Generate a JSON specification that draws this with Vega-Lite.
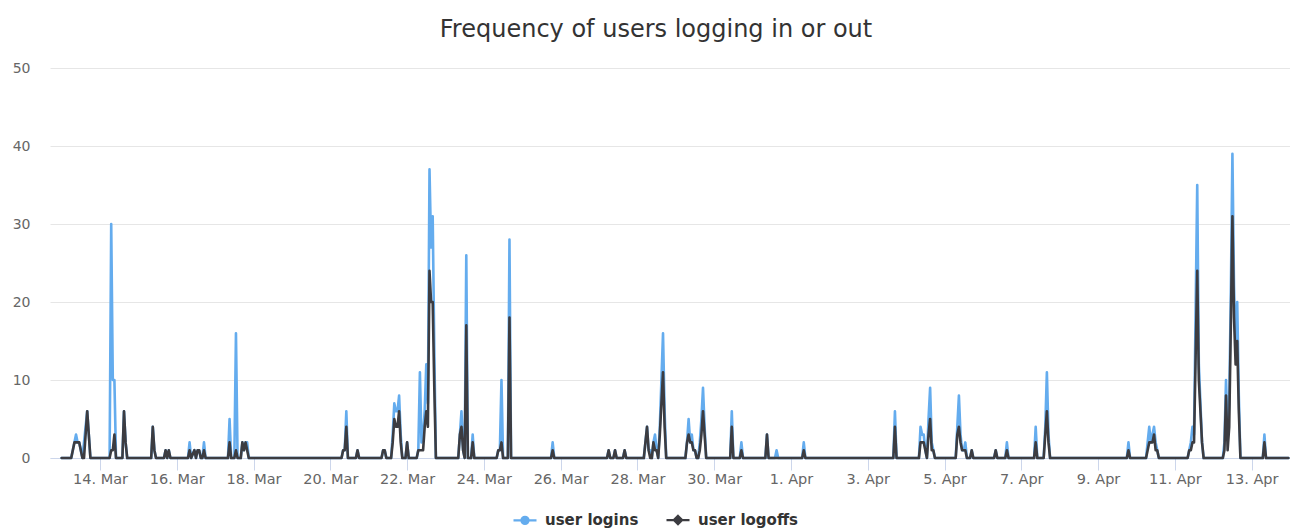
{
 "$schema": "https://vega.github.io/schema/vega-lite/v6.json",
 "autosize": {"type": "none"},
 "width": 1240,
 "height": 390,
 "padding": {"left": 50, "top": 68, "right": 0, "bottom": 72},
 "background": "white",
 "title": {"text": "Frequency of users logging in or out", "fontSize": 24, "font": "DejaVu Sans", "fontWeight": "normal", "color": "#333333", "anchor": "middle", "dx": -14, "offset": 19},
 "data": {"values": [
  {"t":"2017-03-13T00:00Z","logins":0,"logoffs":0},
  {"t":"2017-03-13T06:00Z","logins":0,"logoffs":0},
  {"t":"2017-03-13T08:00Z","logins":2,"logoffs":2},
  {"t":"2017-03-13T09:00Z","logins":3,"logoffs":2},
  {"t":"2017-03-13T10:00Z","logins":2,"logoffs":2},
  {"t":"2017-03-13T11:00Z","logins":2,"logoffs":2},
  {"t":"2017-03-13T13:00Z","logins":0,"logoffs":0},
  {"t":"2017-03-13T14:00Z","logins":2,"logoffs":0},
  {"t":"2017-03-13T16:00Z","logins":6,"logoffs":6},
  {"t":"2017-03-13T18:00Z","logins":0,"logoffs":0},
  {"t":"2017-03-14T06:00Z","logins":0,"logoffs":0},
  {"t":"2017-03-14T07:00Z","logins":30,"logoffs":1},
  {"t":"2017-03-14T08:00Z","logins":10,"logoffs":1},
  {"t":"2017-03-14T09:00Z","logins":10,"logoffs":3},
  {"t":"2017-03-14T10:00Z","logins":0,"logoffs":0},
  {"t":"2017-03-14T14:00Z","logins":0,"logoffs":0},
  {"t":"2017-03-14T15:00Z","logins":6,"logoffs":6},
  {"t":"2017-03-14T16:00Z","logins":2,"logoffs":2},
  {"t":"2017-03-14T17:00Z","logins":0,"logoffs":0},
  {"t":"2017-03-15T08:00Z","logins":0,"logoffs":0},
  {"t":"2017-03-15T09:00Z","logins":4,"logoffs":4},
  {"t":"2017-03-15T10:00Z","logins":1,"logoffs":1},
  {"t":"2017-03-15T11:00Z","logins":0,"logoffs":0},
  {"t":"2017-03-15T16:00Z","logins":0,"logoffs":0},
  {"t":"2017-03-15T17:00Z","logins":1,"logoffs":1},
  {"t":"2017-03-15T18:00Z","logins":0,"logoffs":0},
  {"t":"2017-03-15T19:00Z","logins":1,"logoffs":1},
  {"t":"2017-03-15T20:00Z","logins":0,"logoffs":0},
  {"t":"2017-03-16T07:00Z","logins":0,"logoffs":0},
  {"t":"2017-03-16T08:00Z","logins":2,"logoffs":1},
  {"t":"2017-03-16T09:00Z","logins":0,"logoffs":0},
  {"t":"2017-03-16T11:00Z","logins":1,"logoffs":1},
  {"t":"2017-03-16T12:00Z","logins":0,"logoffs":0},
  {"t":"2017-03-16T13:00Z","logins":1,"logoffs":1},
  {"t":"2017-03-16T14:00Z","logins":1,"logoffs":1},
  {"t":"2017-03-16T15:00Z","logins":0,"logoffs":0},
  {"t":"2017-03-16T16:00Z","logins":0,"logoffs":0},
  {"t":"2017-03-16T17:00Z","logins":2,"logoffs":1},
  {"t":"2017-03-16T18:00Z","logins":0,"logoffs":0},
  {"t":"2017-03-17T08:00Z","logins":0,"logoffs":0},
  {"t":"2017-03-17T09:00Z","logins":5,"logoffs":2},
  {"t":"2017-03-17T10:00Z","logins":0,"logoffs":0},
  {"t":"2017-03-17T12:00Z","logins":0,"logoffs":0},
  {"t":"2017-03-17T13:00Z","logins":16,"logoffs":1},
  {"t":"2017-03-17T14:00Z","logins":0,"logoffs":0},
  {"t":"2017-03-17T16:00Z","logins":0,"logoffs":0},
  {"t":"2017-03-17T17:00Z","logins":2,"logoffs":2},
  {"t":"2017-03-17T18:00Z","logins":1,"logoffs":1},
  {"t":"2017-03-17T19:00Z","logins":2,"logoffs":2},
  {"t":"2017-03-17T20:00Z","logins":2,"logoffs":1},
  {"t":"2017-03-17T21:00Z","logins":0,"logoffs":0},
  {"t":"2017-03-20T07:00Z","logins":0,"logoffs":0},
  {"t":"2017-03-20T08:00Z","logins":1,"logoffs":1},
  {"t":"2017-03-20T09:00Z","logins":1,"logoffs":1},
  {"t":"2017-03-20T10:00Z","logins":6,"logoffs":4},
  {"t":"2017-03-20T11:00Z","logins":0,"logoffs":0},
  {"t":"2017-03-20T16:00Z","logins":0,"logoffs":0},
  {"t":"2017-03-20T17:00Z","logins":1,"logoffs":1},
  {"t":"2017-03-20T18:00Z","logins":0,"logoffs":0},
  {"t":"2017-03-21T08:00Z","logins":0,"logoffs":0},
  {"t":"2017-03-21T09:00Z","logins":1,"logoffs":1},
  {"t":"2017-03-21T10:00Z","logins":1,"logoffs":1},
  {"t":"2017-03-21T11:00Z","logins":0,"logoffs":0},
  {"t":"2017-03-21T14:00Z","logins":0,"logoffs":0},
  {"t":"2017-03-21T15:00Z","logins":3,"logoffs":2},
  {"t":"2017-03-21T16:00Z","logins":7,"logoffs":5},
  {"t":"2017-03-21T17:00Z","logins":6,"logoffs":4},
  {"t":"2017-03-21T18:00Z","logins":6,"logoffs":4},
  {"t":"2017-03-21T19:00Z","logins":8,"logoffs":6},
  {"t":"2017-03-21T20:00Z","logins":3,"logoffs":2},
  {"t":"2017-03-21T21:00Z","logins":0,"logoffs":0},
  {"t":"2017-03-21T23:00Z","logins":0,"logoffs":0},
  {"t":"2017-03-22T00:00Z","logins":2,"logoffs":2},
  {"t":"2017-03-22T01:00Z","logins":0,"logoffs":0},
  {"t":"2017-03-22T06:00Z","logins":0,"logoffs":0},
  {"t":"2017-03-22T07:00Z","logins":1,"logoffs":1},
  {"t":"2017-03-22T08:00Z","logins":11,"logoffs":1},
  {"t":"2017-03-22T09:00Z","logins":2,"logoffs":1},
  {"t":"2017-03-22T10:00Z","logins":3,"logoffs":1},
  {"t":"2017-03-22T11:00Z","logins":6,"logoffs":4},
  {"t":"2017-03-22T12:00Z","logins":12,"logoffs":6},
  {"t":"2017-03-22T13:00Z","logins":7,"logoffs":4},
  {"t":"2017-03-22T14:00Z","logins":37,"logoffs":24},
  {"t":"2017-03-22T15:00Z","logins":27,"logoffs":20},
  {"t":"2017-03-22T16:00Z","logins":31,"logoffs":20},
  {"t":"2017-03-22T17:00Z","logins":14,"logoffs":9},
  {"t":"2017-03-22T18:00Z","logins":0,"logoffs":0},
  {"t":"2017-03-23T08:00Z","logins":0,"logoffs":0},
  {"t":"2017-03-23T09:00Z","logins":3,"logoffs":3},
  {"t":"2017-03-23T10:00Z","logins":6,"logoffs":4},
  {"t":"2017-03-23T11:00Z","logins":1,"logoffs":1},
  {"t":"2017-03-23T12:00Z","logins":0,"logoffs":0},
  {"t":"2017-03-23T13:00Z","logins":26,"logoffs":17},
  {"t":"2017-03-23T14:00Z","logins":0,"logoffs":0},
  {"t":"2017-03-23T16:00Z","logins":0,"logoffs":0},
  {"t":"2017-03-23T17:00Z","logins":3,"logoffs":2},
  {"t":"2017-03-23T18:00Z","logins":0,"logoffs":0},
  {"t":"2017-03-24T08:00Z","logins":0,"logoffs":0},
  {"t":"2017-03-24T09:00Z","logins":1,"logoffs":1},
  {"t":"2017-03-24T10:00Z","logins":1,"logoffs":1},
  {"t":"2017-03-24T11:00Z","logins":10,"logoffs":2},
  {"t":"2017-03-24T12:00Z","logins":0,"logoffs":0},
  {"t":"2017-03-24T15:00Z","logins":0,"logoffs":0},
  {"t":"2017-03-24T16:00Z","logins":28,"logoffs":18},
  {"t":"2017-03-24T17:00Z","logins":0,"logoffs":0},
  {"t":"2017-03-25T18:00Z","logins":0,"logoffs":0},
  {"t":"2017-03-25T19:00Z","logins":2,"logoffs":1},
  {"t":"2017-03-25T20:00Z","logins":0,"logoffs":0},
  {"t":"2017-03-27T05:00Z","logins":0,"logoffs":0},
  {"t":"2017-03-27T06:00Z","logins":1,"logoffs":1},
  {"t":"2017-03-27T07:00Z","logins":0,"logoffs":0},
  {"t":"2017-03-27T09:00Z","logins":0,"logoffs":0},
  {"t":"2017-03-27T10:00Z","logins":1,"logoffs":1},
  {"t":"2017-03-27T11:00Z","logins":0,"logoffs":0},
  {"t":"2017-03-27T15:00Z","logins":0,"logoffs":0},
  {"t":"2017-03-27T16:00Z","logins":1,"logoffs":1},
  {"t":"2017-03-27T17:00Z","logins":0,"logoffs":0},
  {"t":"2017-03-28T04:00Z","logins":0,"logoffs":0},
  {"t":"2017-03-28T05:00Z","logins":2,"logoffs":2},
  {"t":"2017-03-28T06:00Z","logins":4,"logoffs":4},
  {"t":"2017-03-28T07:00Z","logins":1,"logoffs":1},
  {"t":"2017-03-28T08:00Z","logins":1,"logoffs":0},
  {"t":"2017-03-28T09:00Z","logins":0,"logoffs":0},
  {"t":"2017-03-28T10:00Z","logins":2,"logoffs":2},
  {"t":"2017-03-28T11:00Z","logins":3,"logoffs":1},
  {"t":"2017-03-28T12:00Z","logins":1,"logoffs":1},
  {"t":"2017-03-28T13:00Z","logins":0,"logoffs":0},
  {"t":"2017-03-28T14:00Z","logins":4,"logoffs":3},
  {"t":"2017-03-28T15:00Z","logins":10,"logoffs":7},
  {"t":"2017-03-28T16:00Z","logins":16,"logoffs":11},
  {"t":"2017-03-28T17:00Z","logins":6,"logoffs":4},
  {"t":"2017-03-28T18:00Z","logins":0,"logoffs":0},
  {"t":"2017-03-29T06:00Z","logins":0,"logoffs":0},
  {"t":"2017-03-29T07:00Z","logins":2,"logoffs":2},
  {"t":"2017-03-29T08:00Z","logins":5,"logoffs":3},
  {"t":"2017-03-29T09:00Z","logins":2,"logoffs":2},
  {"t":"2017-03-29T10:00Z","logins":3,"logoffs":2},
  {"t":"2017-03-29T11:00Z","logins":1,"logoffs":1},
  {"t":"2017-03-29T12:00Z","logins":1,"logoffs":1},
  {"t":"2017-03-29T13:00Z","logins":0,"logoffs":0},
  {"t":"2017-03-29T14:00Z","logins":0,"logoffs":0},
  {"t":"2017-03-29T15:00Z","logins":2,"logoffs":1},
  {"t":"2017-03-29T16:00Z","logins":5,"logoffs":3},
  {"t":"2017-03-29T17:00Z","logins":9,"logoffs":6},
  {"t":"2017-03-29T18:00Z","logins":4,"logoffs":3},
  {"t":"2017-03-29T19:00Z","logins":0,"logoffs":0},
  {"t":"2017-03-30T10:00Z","logins":0,"logoffs":0},
  {"t":"2017-03-30T11:00Z","logins":6,"logoffs":4},
  {"t":"2017-03-30T12:00Z","logins":0,"logoffs":0},
  {"t":"2017-03-30T16:00Z","logins":0,"logoffs":0},
  {"t":"2017-03-30T17:00Z","logins":2,"logoffs":1},
  {"t":"2017-03-30T18:00Z","logins":0,"logoffs":0},
  {"t":"2017-03-31T08:00Z","logins":0,"logoffs":0},
  {"t":"2017-03-31T09:00Z","logins":3,"logoffs":3},
  {"t":"2017-03-31T10:00Z","logins":0,"logoffs":0},
  {"t":"2017-03-31T14:00Z","logins":0,"logoffs":0},
  {"t":"2017-03-31T15:00Z","logins":1,"logoffs":0},
  {"t":"2017-03-31T16:00Z","logins":0,"logoffs":0},
  {"t":"2017-04-01T07:00Z","logins":0,"logoffs":0},
  {"t":"2017-04-01T08:00Z","logins":2,"logoffs":1},
  {"t":"2017-04-01T09:00Z","logins":0,"logoffs":0},
  {"t":"2017-04-03T16:00Z","logins":0,"logoffs":0},
  {"t":"2017-04-03T17:00Z","logins":6,"logoffs":4},
  {"t":"2017-04-03T18:00Z","logins":0,"logoffs":0},
  {"t":"2017-04-04T08:00Z","logins":0,"logoffs":0},
  {"t":"2017-04-04T09:00Z","logins":4,"logoffs":2},
  {"t":"2017-04-04T10:00Z","logins":3,"logoffs":2},
  {"t":"2017-04-04T11:00Z","logins":3,"logoffs":2},
  {"t":"2017-04-04T12:00Z","logins":1,"logoffs":1},
  {"t":"2017-04-04T13:00Z","logins":0,"logoffs":0},
  {"t":"2017-04-04T14:00Z","logins":5,"logoffs":3},
  {"t":"2017-04-04T15:00Z","logins":9,"logoffs":5},
  {"t":"2017-04-04T16:00Z","logins":2,"logoffs":1},
  {"t":"2017-04-04T17:00Z","logins":1,"logoffs":1},
  {"t":"2017-04-04T18:00Z","logins":0,"logoffs":0},
  {"t":"2017-04-05T07:00Z","logins":0,"logoffs":0},
  {"t":"2017-04-05T08:00Z","logins":4,"logoffs":3},
  {"t":"2017-04-05T09:00Z","logins":8,"logoffs":4},
  {"t":"2017-04-05T10:00Z","logins":3,"logoffs":2},
  {"t":"2017-04-05T11:00Z","logins":1,"logoffs":1},
  {"t":"2017-04-05T12:00Z","logins":1,"logoffs":1},
  {"t":"2017-04-05T13:00Z","logins":2,"logoffs":1},
  {"t":"2017-04-05T14:00Z","logins":0,"logoffs":0},
  {"t":"2017-04-05T16:00Z","logins":0,"logoffs":0},
  {"t":"2017-04-05T17:00Z","logins":1,"logoffs":1},
  {"t":"2017-04-05T18:00Z","logins":0,"logoffs":0},
  {"t":"2017-04-06T07:00Z","logins":0,"logoffs":0},
  {"t":"2017-04-06T08:00Z","logins":1,"logoffs":1},
  {"t":"2017-04-06T09:00Z","logins":0,"logoffs":0},
  {"t":"2017-04-06T14:00Z","logins":0,"logoffs":0},
  {"t":"2017-04-06T15:00Z","logins":2,"logoffs":1},
  {"t":"2017-04-06T16:00Z","logins":0,"logoffs":0},
  {"t":"2017-04-07T08:00Z","logins":0,"logoffs":0},
  {"t":"2017-04-07T09:00Z","logins":4,"logoffs":2},
  {"t":"2017-04-07T10:00Z","logins":0,"logoffs":0},
  {"t":"2017-04-07T14:00Z","logins":0,"logoffs":0},
  {"t":"2017-04-07T15:00Z","logins":4,"logoffs":3},
  {"t":"2017-04-07T16:00Z","logins":11,"logoffs":6},
  {"t":"2017-04-07T17:00Z","logins":3,"logoffs":2},
  {"t":"2017-04-07T18:00Z","logins":0,"logoffs":0},
  {"t":"2017-04-09T18:00Z","logins":0,"logoffs":0},
  {"t":"2017-04-09T19:00Z","logins":2,"logoffs":1},
  {"t":"2017-04-09T20:00Z","logins":0,"logoffs":0},
  {"t":"2017-04-10T06:00Z","logins":0,"logoffs":0},
  {"t":"2017-04-10T07:00Z","logins":2,"logoffs":1},
  {"t":"2017-04-10T08:00Z","logins":4,"logoffs":2},
  {"t":"2017-04-10T09:00Z","logins":2,"logoffs":2},
  {"t":"2017-04-10T10:00Z","logins":3,"logoffs":2},
  {"t":"2017-04-10T11:00Z","logins":4,"logoffs":3},
  {"t":"2017-04-10T12:00Z","logins":2,"logoffs":1},
  {"t":"2017-04-10T13:00Z","logins":1,"logoffs":1},
  {"t":"2017-04-10T14:00Z","logins":0,"logoffs":0},
  {"t":"2017-04-11T08:00Z","logins":0,"logoffs":0},
  {"t":"2017-04-11T09:00Z","logins":1,"logoffs":1},
  {"t":"2017-04-11T10:00Z","logins":2,"logoffs":1},
  {"t":"2017-04-11T11:00Z","logins":4,"logoffs":2},
  {"t":"2017-04-11T12:00Z","logins":3,"logoffs":2},
  {"t":"2017-04-11T13:00Z","logins":19,"logoffs":13},
  {"t":"2017-04-11T14:00Z","logins":35,"logoffs":24},
  {"t":"2017-04-11T15:00Z","logins":12,"logoffs":10},
  {"t":"2017-04-11T16:00Z","logins":7,"logoffs":6},
  {"t":"2017-04-11T17:00Z","logins":2,"logoffs":2},
  {"t":"2017-04-11T18:00Z","logins":0,"logoffs":0},
  {"t":"2017-04-12T06:00Z","logins":0,"logoffs":0},
  {"t":"2017-04-12T07:00Z","logins":2,"logoffs":1},
  {"t":"2017-04-12T08:00Z","logins":10,"logoffs":8},
  {"t":"2017-04-12T09:00Z","logins":3,"logoffs":1},
  {"t":"2017-04-12T10:00Z","logins":7,"logoffs":4},
  {"t":"2017-04-12T11:00Z","logins":21,"logoffs":17},
  {"t":"2017-04-12T12:00Z","logins":39,"logoffs":31},
  {"t":"2017-04-12T13:00Z","logins":22,"logoffs":18},
  {"t":"2017-04-12T14:00Z","logins":14,"logoffs":12},
  {"t":"2017-04-12T15:00Z","logins":20,"logoffs":15},
  {"t":"2017-04-12T16:00Z","logins":8,"logoffs":6},
  {"t":"2017-04-12T17:00Z","logins":0,"logoffs":0},
  {"t":"2017-04-13T07:00Z","logins":0,"logoffs":0},
  {"t":"2017-04-13T08:00Z","logins":3,"logoffs":2},
  {"t":"2017-04-13T09:00Z","logins":0,"logoffs":0},
  {"t":"2017-04-13T23:00Z","logins":0,"logoffs":0}
 ]},
 "encoding": {
  "x": {
   "field": "t", "type": "temporal",
   "scale": {"type": "utc", "domain": [{"year": 2017, "month": 3, "date": 12, "hours": 16, "minutes": 44, "utc": true}, {"year": 2017, "month": 4, "date": 14, "utc": true}]},
   "axis": {
    "title": null, "grid": false, "format": "%-d. %b", "labelOverlap": false, "labelFlush": false,
    "values": [
     {"year": 2017, "month": 3, "date": 14, "utc": true},
     {"year": 2017, "month": 3, "date": 16, "utc": true},
     {"year": 2017, "month": 3, "date": 18, "utc": true},
     {"year": 2017, "month": 3, "date": 20, "utc": true},
     {"year": 2017, "month": 3, "date": 22, "utc": true},
     {"year": 2017, "month": 3, "date": 24, "utc": true},
     {"year": 2017, "month": 3, "date": 26, "utc": true},
     {"year": 2017, "month": 3, "date": 28, "utc": true},
     {"year": 2017, "month": 3, "date": 30, "utc": true},
     {"year": 2017, "month": 4, "date": 1, "utc": true},
     {"year": 2017, "month": 4, "date": 3, "utc": true},
     {"year": 2017, "month": 4, "date": 5, "utc": true},
     {"year": 2017, "month": 4, "date": 7, "utc": true},
     {"year": 2017, "month": 4, "date": 9, "utc": true},
     {"year": 2017, "month": 4, "date": 11, "utc": true},
     {"year": 2017, "month": 4, "date": 13, "utc": true}
    ],
    "domainColor": "#ccd6eb", "domainWidth": 1, "tickColor": "#ccd6eb", "tickWidth": 1, "tickSize": 12,
    "labelColor": "#666666", "labelFont": "DejaVu Sans", "labelFontSize": 14.5, "labelPadding": 2
   }
  }
 },
 "layer": [
  {
   "mark": {"type": "line", "strokeWidth": 2.6, "strokeJoin": "round", "strokeCap": "round"},
   "encoding": {
    "y": {"field": "logins", "type": "quantitative", "scale": {"domain": [0, 50]},
     "axis": {"title": null, "values": [0, 10, 20, 30, 40, 50], "grid": true, "gridColor": "#e6e6e6", "gridWidth": 1, "domain": false, "ticks": false, "tickSize": 0, "labelColor": "#666666", "labelFont": "DejaVu Sans", "labelFontSize": 14, "labelPadding": 20}},
    "color": {"datum": "user logins",
     "scale": {"domain": ["user logins", "user logoffs"], "range": ["#64acee", "#3c3c41"]},
     "legend": {"orient": "none", "legendX": 462, "legendY": 439, "direction": "horizontal", "title": null, "padding": 0,
      "symbolSize": 529, "symbolStrokeWidth": 2.4, "labelFont": "DejaVu Sans", "labelFontSize": 15, "labelFontWeight": "bold", "labelColor": "#333333", "labelOffset": 7, "columnPadding": 22,
      "encode": {"symbols": {"update": {
       "shape": {"signal": "datum.value === 'user logins' ? 'M-1,0L-0.3,0M0.3,0L1,0M-0.3,0A0.3,0.3,0,1,1,0.3,0A0.3,0.3,0,1,1,-0.3,0Z' : 'M-1,0L-0.35,0M0.35,0L1,0M0,-0.35L0.35,0L0,0.35L-0.35,0Z'"},
       "fill": {"scale": "color", "field": "value"},
       "stroke": {"scale": "color", "field": "value"}
      }}}}
    }
   }
  },
  {
   "mark": {"type": "line", "strokeWidth": 2.6, "strokeJoin": "round", "strokeCap": "round"},
   "encoding": {
    "y": {"field": "logoffs", "type": "quantitative", "title": null},
    "color": {"datum": "user logoffs"}
   }
  }
 ],
 "config": {"view": {"stroke": null}}
}
